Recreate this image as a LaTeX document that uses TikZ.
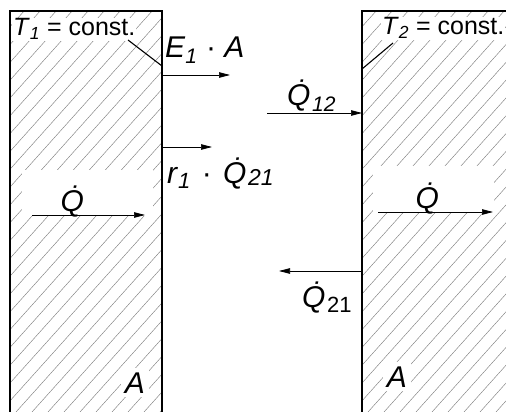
\documentclass[tikz,border=0pt]{standalone}
\usepackage{fontspec}
\setmainfont{Liberation Sans}
\usetikzlibrary{arrows.meta, positioning}
\newcommand{\Qdot}{\.{Q}}

\begin{document}
\begin{tikzpicture}[
    x=1pt, y=-1pt,
    wall/.style={draw=black, line width=1.2pt},
    hatch/.style={draw=black!50, line width=0.45pt},
    flow/.style={draw=black, line width=0.7pt, -{Triangle[length=11pt, width=5.5pt]}},
    leader/.style={draw=black, line width=1.1pt},
    lbl/.style={font=\fontsize{30}{33}\selectfont, inner sep=1pt},
    lbltemp/.style={font=\fontsize{25}{28}\selectfont, fill=white, inner sep=1pt},
    lblarea/.style={lbl, fill=white, inner sep=4pt}
  ]
  \useasboundingbox (0,0) rectangle (506,412);
  \begin{scope}
    \clip (10,11) rectangle (162,412) (362,11) rectangle (506,412);
    \foreach \i in {-400,-384,...,506}
      \draw[hatch] (\i,412) -- ++(370,-412);
  \end{scope}
  \fill[white] (22,170) rectangle (153,216);
  \fill[white] (373,166) rectangle (494,212);
  \draw[wall] (10,412) -- (10,11) -- (162,11) -- (162,412);
  \draw[wall] (506,11) -- (362,11) -- (362,412);

  \coordinate (wall1top) at (162,66);
  \coordinate (wall1e) at (162,75);
  \coordinate (wall1r) at (162,147);
  \coordinate (wall2top) at (362,69);
  \coordinate (wall2in) at (362,113);
  \coordinate (wall2out) at (362,271);
  \coordinate (e1end) at (230,75);
  \coordinate (r1end) at (212,147);
  \coordinate (q12start) at (267,113);
  \coordinate (q21end) at (279,271);
  \coordinate (qin1) at (32,215);
  \coordinate (qout1) at (145,215);
  \coordinate (qin2) at (378,212);
  \coordinate (qout2) at (493,212);
  \coordinate (t1tail) at (128,40);
  \coordinate (t2tail) at (393,43);

  \node[lbltemp, anchor=base west] (temp1) at (12,36) {\textit{T}\textsubscript{\textit{1}} = const.};
  \node[lbltemp, anchor=base west] (temp2) at (381,35) {\textit{T}\textsubscript{\textit{2}} = const.};
  \node[lbl, anchor=base west] (emit) at (164,58) {\textit{E}\textsubscript{\textit{1}} · \textit{A}};
  \node[lbl, anchor=base west] (refl) at (166,183) {\textit{r}\raisebox{-5pt}{\fontsize{22}{24}\selectfont\textit{1}}\hspace{3pt} · \hspace{3pt}\textit{\Qdot}\raisebox{-2pt}{\fontsize{23}{25}\selectfont\textit{21}}};
  \node[lbl, anchor=base west] (q12) at (286,105) {\textit{\Qdot}\textsubscript{\textit{12}}};
  \node[lbl, anchor=base west] (q21) at (301,307) {\textit{\Qdot}\raisebox{-5pt}{\fontsize{22}{24}\selectfont 21}};
  \node[lbl, anchor=base] (qwall1) at (73,211) {\textit{\Qdot}};
  \node[lbl, anchor=base] (qwall2) at (428,208) {\textit{\Qdot}};
  \node[lblarea, anchor=base] (area1) at (135,393) {\textit{A}};
  \node[lblarea, anchor=base] (area2) at (397,387) {\textit{A}};

  \draw[leader] (t1tail) -- (wall1top);
  \draw[leader] (t2tail) -- (wall2top);
  \draw[flow] (wall1e) -- (e1end);
  \draw[flow] (wall1r) -- (r1end);
  \draw[flow] (q12start) -- (wall2in);
  \draw[flow] (wall2out) -- (q21end);
  \draw[flow] (qin1) -- (qout1);
  \draw[flow] (qin2) -- (qout2);
\end{tikzpicture}
\end{document}
